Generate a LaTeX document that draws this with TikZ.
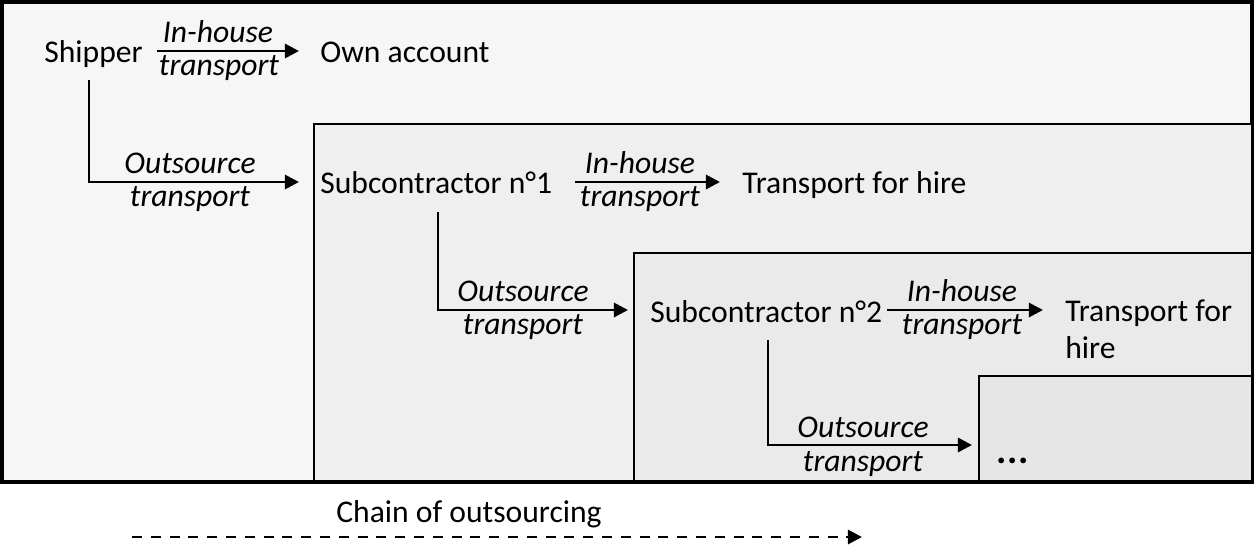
\documentclass[tikz,border=0pt]{standalone}
\usepackage{fontspec}
\setmainfont{Carlito}
\usetikzlibrary{arrows.meta,calc}
\definecolor{cA}{HTML}{F6F6F6}
\definecolor{cB}{HTML}{EFEFEF}
\definecolor{cC}{HTML}{EAEAEA}
\definecolor{cD}{HTML}{E6E6E6}
\begin{document}
\begin{tikzpicture}[x=0.02cm,y=-0.02cm,
  txt/.style={font=\fontsize{18}{22}\selectfont, inner sep=0pt, anchor=base west},
  lbl/.style={font=\fontsize{18}{22}\selectfont\itshape, inner sep=0pt, anchor=base},
  arr/.style={line width=1.6pt, -{Triangle[length=8pt,width=8pt]}},
  box/.style={draw=black, line width=1.6pt}]
\useasboundingbox (0,0) rectangle (1254,548);
\fill[white] (0,0) rectangle (1254,548);
% nested boxes
\draw[box, fill=cA, line width=2pt] (2,2) rectangle (1252,482);
\draw[box, fill=cB] (314,124) rectangle (1252,482);
\draw[box, fill=cC] (634,253) rectangle (1252,482);
\draw[box, fill=cD] (979,376) rectangle (1252,482);
\draw[black, line width=2.2pt] (2,482) -- (1252,482);
% level 0
\node[txt] (shipper) at (44,62) {Shipper};
\node[txt] (own) at (320,62) {Own account};
\draw[arr] ($(shipper.base east)+(14,-11)$) -- ($(own.base west)+(-21,-11)$);
\node[lbl] (l0a) at (218,42) {In-house};
\node[lbl] (l0b) at (219,75) {transport};
% level 1
\node[txt] (sub1) at (320,193) {Subcontractor n°1};
\node[txt] (hire1) at (742,193) {Transport for hire};
\coordinate (s0) at ($(shipper.base west)+(45,18)$);
\draw[arr] (s0) |- ($(sub1.base west)+(-21,-11)$);
\node[lbl] (o1a) at (190,173) {Outsource};
\node[lbl] (o1b) at (190,206) {transport};
\draw[arr] ($(sub1.base west)+(255,-11)$) -- ($(hire1.base west)+(-22,-11)$);
\node[lbl] (i1a) at (640,173) {In-house};
\node[lbl] (i1b) at (640,206) {transport};
% level 2
\node[txt] (sub2) at (650,322) {Subcontractor n°2};
\node[txt] (hire2) at (1065,321) {Transport for};
\node[txt] (hire2b) at (1065,358) {hire};
\coordinate (s1) at ($(sub1.base west)+(118,19)$);
\draw[arr] (s1) |- ($(sub2.base west)+(-22,-12)$);
\node[lbl] (o2a) at (523,301) {Outsource};
\node[lbl] (o2b) at (523,334) {transport};
\draw[arr] ($(sub2.base west)+(237,-12)$) -- ($(hire2.base west)+(-22,-11)$);
\node[lbl] (i2a) at (962,301) {In-house};
\node[lbl] (i2b) at (962,334) {transport};
% level 3
\node[txt, font=\fontsize{22}{26}\selectfont\bfseries] (dots) at (996,463) {.\kern0.5pt.\kern0.5pt.};
\coordinate (s2) at ($(sub2.base west)+(118,18)$);
\draw[arr] (s2) |- ($(dots.base west)+(-24,-18)$);
\node[lbl] (o3a) at (863,437) {Outsource};
\node[lbl] (o3b) at (863,471) {transport};
% chain
\node[txt] (chain) at (336,522) {Chain of outsourcing};
\coordinate (ch0) at (132,537);
\coordinate (ch1) at (862,537);
\draw[line width=1.6pt, dash pattern=on 5.7pt off 5pt, -{Triangle[length=8pt,width=8pt]}] (ch0) -- (ch1);
\end{tikzpicture}
\end{document}
